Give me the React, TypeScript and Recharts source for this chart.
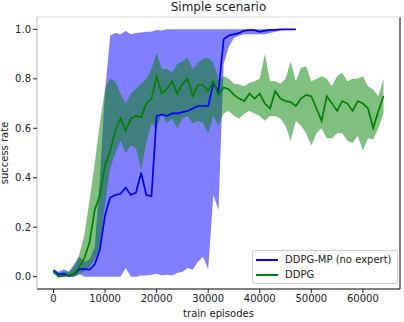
import React from 'react'
import {
  ComposedChart,
  Area,
  Line,
  XAxis,
  YAxis,
  ReferenceLine,
} from 'recharts'

// training episodes (x positions of every sample)
const episodes = [
  0, 1000, 2000, 3000, 4000, 5000, 6000, 7000, 8000, 9000,
  10000, 11000, 12000, 13000, 14000, 15000, 16000, 17000, 18000, 19000,
  20000, 21000, 22000, 23000, 24000, 25000, 26000, 27000, 28000, 29000,
  30000, 31000, 32000, 33000, 34000, 35000, 36000, 37000, 38000, 39000,
  40000, 41000, 42000, 43000, 44000, 45000, 46000, 47000, 48000, 49000,
  50000, 51000, 52000, 53000, 54000, 55000, 56000, 57000, 58000, 59000,
  60000, 61000, 62000, 63000, 64000,
]

// DDPG-MP (no expert): mean and band, runs up to 47000
const blueMean = [
  0.025, 0.008, 0.012, 0.003, 0.01, 0.03, 0.03, 0.028, 0.05, 0.11,
  0.25, 0.32, 0.33, 0.335, 0.36, 0.33, 0.34, 0.42, 0.33, 0.325,
  0.65, 0.655, 0.65, 0.66, 0.66, 0.665, 0.67, 0.68, 0.69, 0.69,
  0.69, 0.78, 0.75, 0.96, 0.975, 0.98, 0.985, 0.995, 0.997, 0.997,
  0.99, 0.995, 0.998, 0.998, 1.0, 1.0, 1.0, 1.0,
]
const blueLow = [
  0.02, 0.0, 0.005, 0.0, 0.0, 0.01, 0.0, 0.0, 0.0, 0.0,
  0.0, 0.0, 0.0, 0.0, 0.035, 0.0, 0.0, 0.005, 0.005, 0.008,
  0.012, 0.005, 0.008, 0.005, 0.015, 0.02, 0.035, 0.028, 0.06, 0.08,
  0.03, 0.33, 0.27, 0.86, 0.93, 0.965, 0.975, 0.98, 0.98, 0.98,
  0.98, 0.98, 0.985, 0.99, 0.995, 0.997, 1.0, 1.0,
]
const blueHigh = [
  0.03, 0.02, 0.03, 0.02, 0.05, 0.08, 0.06, 0.07, 0.12, 0.4,
  0.75, 0.975, 0.985, 0.98, 0.993, 0.98, 0.985, 0.987, 0.99, 0.99,
  0.997, 0.995, 1.0, 1.0, 1.0, 1.0, 1.0, 1.0, 1.0, 1.0,
  1.0, 1.0, 1.0, 1.0, 1.0, 1.0, 1.0, 1.0, 1.0, 1.0,
  1.0, 1.0, 1.0, 1.0, 1.0, 1.0, 1.0, 1.0,
]

// DDPG: mean and band
const greenMean = [
  0.02, 0.0, 0.003, 0.006, 0.01, 0.04, 0.075, 0.14, 0.27, 0.33,
  0.45, 0.51, 0.59, 0.64, 0.59, 0.64, 0.65, 0.645, 0.7, 0.72,
  0.81, 0.74, 0.76, 0.79, 0.74, 0.78, 0.8, 0.73, 0.775, 0.775,
  0.75, 0.79, 0.735, 0.765, 0.758, 0.735, 0.72, 0.71, 0.74, 0.72,
  0.74, 0.7, 0.68, 0.75, 0.72, 0.71, 0.706, 0.69, 0.72, 0.735,
  0.73, 0.68, 0.63, 0.73, 0.7, 0.67, 0.71, 0.7, 0.67, 0.71,
  0.7, 0.68, 0.6, 0.67, 0.73,
]
const greenLow = [
  0.01, 0.0, 0.0, 0.0, 0.0, 0.01, 0.02, 0.04, 0.07, 0.12,
  0.3, 0.44, 0.5, 0.55, 0.5, 0.53, 0.52, 0.43, 0.54, 0.62,
  0.6, 0.66, 0.62, 0.64, 0.6, 0.64, 0.65, 0.62, 0.63, 0.62,
  0.58, 0.65, 0.61, 0.66, 0.67, 0.65, 0.64, 0.66, 0.67, 0.66,
  0.65, 0.63, 0.65, 0.65, 0.64, 0.61, 0.55, 0.63, 0.61, 0.58,
  0.53, 0.58, 0.6, 0.56, 0.56, 0.58, 0.58, 0.55, 0.54, 0.57,
  0.51, 0.56, 0.555, 0.6, 0.66,
]
const greenHigh = [
  0.03, 0.015, 0.02, 0.02, 0.04, 0.09, 0.17, 0.31, 0.46, 0.62,
  0.76, 0.8, 0.79, 0.74, 0.7, 0.74, 0.76, 0.78, 0.8, 0.84,
  0.905, 0.84, 0.84, 0.825, 0.86, 0.87, 0.885, 0.84, 0.865, 0.88,
  0.885, 0.865, 0.8, 0.81, 0.8, 0.78, 0.777, 0.77, 0.784, 0.79,
  0.8, 0.9, 0.79, 0.79, 0.78, 0.8, 0.87, 0.79, 0.845, 0.85,
  0.79, 0.8, 0.81, 0.8, 0.77, 0.81, 0.825, 0.79, 0.8, 0.8,
  0.81, 0.77, 0.757, 0.73, 0.8,
]

const xTicks = [0, 10000, 20000, 30000, 40000, 50000, 60000]
const yTicks = [0, 0.2, 0.4, 0.6, 0.8, 1.0]
const xDomain = [-3200, 67200]
const yDomain = [-0.05, 1.05]

const FONT = '"DejaVu Sans", sans-serif'

const data = episodes.map((ep, i) => ({
  ep,
  blue: i < blueMean.length ? blueMean[i] : null,
  blueBand: i < blueMean.length ? [blueLow[i], blueHigh[i]] : null,
  green: greenMean[i],
  greenBand: [greenLow[i], greenHigh[i]],
}))

function LegendBox() {
  const row = (color: string, label: string) => (
    <div style={{ display: 'flex', alignItems: 'center', height: 15 }}>
      <div style={{ width: 22, height: 2, background: color, marginRight: 7 }} />
      <span>{label}</span>
    </div>
  )
  return (
    <div
      style={{
        position: 'absolute',
        left: 252,
        top: 250,
        width: 141,
        height: 31,
        border: '1px solid #d0d0d0',
        borderRadius: 3,
        background: 'rgba(255,255,255,0.85)',
        fontFamily: FONT,
        fontSize: 10,
        color: '#222',
        padding: '1px 0 0 3px',
        boxSizing: 'content-box',
      }}
    >
      {row('#0000ff', 'DDPG-MP (no expert)')}
      {row('#008000', 'DDPG')}
    </div>
  )
}

export default function App() {
  return (
    <div style={{ position: 'fixed', left: 0, top: 0, width: 404, height: 322, background: '#fff', overflow: 'hidden' }}>
      <div style={{ position: 'absolute', left: 37, width: 363, top: 0, textAlign: 'center', fontFamily: FONT, fontSize: 12, color: '#222' }}>
        Simple scenario
      </div>
      <div
        style={{
          position: 'absolute',
          left: 4,
          top: 153,
          transform: 'translate(-50%, -50%) rotate(-90deg)',
          fontFamily: FONT,
          fontSize: 10,
          color: '#222',
          whiteSpace: 'nowrap',
        }}
      >
        success rate
      </div>
      <div style={{ position: 'absolute', left: 37, width: 363, top: 308, textAlign: 'center', fontFamily: FONT, fontSize: 10, color: '#222' }}>
        train episodes
      </div>
      <ComposedChart
        width={404}
        height={322}
        data={data}
        margin={{ top: 17, right: 4, left: 0, bottom: 0 }}
      >
        <XAxis
          dataKey="ep"
          type="number"
          domain={xDomain}
          ticks={xTicks}
          allowDataOverflow
          height={33}
          tickSize={4}
          tickLine={{ stroke: '#222' }}
          axisLine={{ stroke: '#000' }}
          tick={{ fontSize: 10, fill: '#222', fontFamily: FONT }}
        />
        <YAxis
          type="number"
          domain={yDomain}
          ticks={yTicks}
          allowDataOverflow
          width={37}
          tickSize={4}
          tickLine={{ stroke: '#222' }}
          axisLine={{ stroke: '#bbb' }}
          tick={{ fontSize: 10, fill: '#222', fontFamily: FONT }}
          tickFormatter={(v: number) => v.toFixed(1)}
        />
        <ReferenceLine x={xDomain[1]} stroke="#000" />
        <ReferenceLine y={yDomain[1]} stroke="#ddd" />
        <Area
          dataKey="blueBand"
          type="linear"
          stroke="none"
          fill="#0000ff"
          fillOpacity={0.5}
          isAnimationActive={false}
          activeDot={false}
        />
        <Area
          dataKey="greenBand"
          type="linear"
          stroke="none"
          fill="#008000"
          fillOpacity={0.5}
          isAnimationActive={false}
          activeDot={false}
        />
        <Line
          dataKey="blue"
          type="linear"
          stroke="#0000ff"
          strokeWidth={1.7}
          dot={false}
          isAnimationActive={false}
        />
        <Line
          dataKey="green"
          type="linear"
          stroke="#008000"
          strokeWidth={1.7}
          dot={false}
          isAnimationActive={false}
        />
      </ComposedChart>
      <LegendBox />
    </div>
  )
}
